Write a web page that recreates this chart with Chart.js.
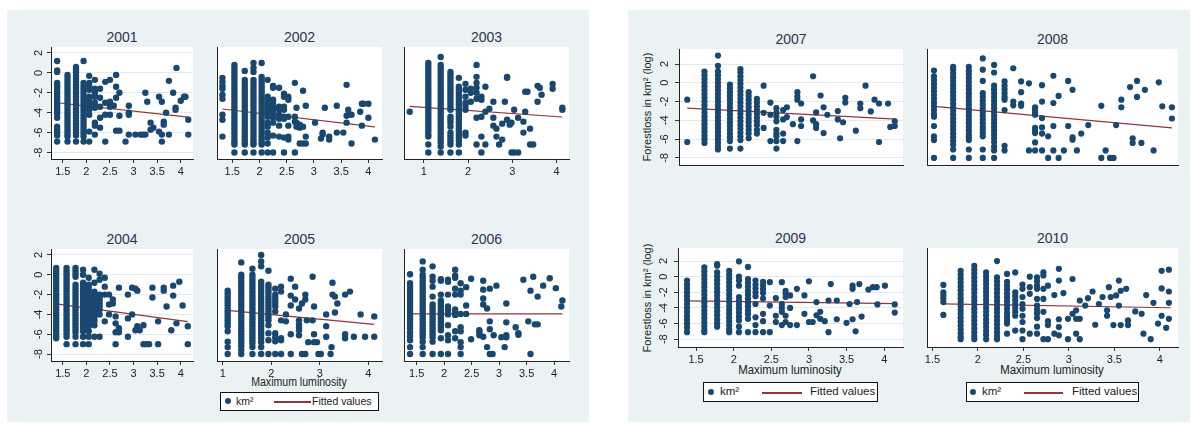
<!DOCTYPE html>
<html>
<head>
<meta charset="utf-8">
<script src="https://cdn.jsdelivr.net/npm/chart.js@4"></script>
<style>
body { margin: 0; background: #fff; }
#wrap { position: relative; width: 1194px; height: 425px; overflow: hidden; background: #fff;
        font-family: "Liberation Sans Narrow", "Liberation Sans", Arial, sans-serif; color: #222; }
.panel { position: absolute; background: #eaf2f3; }
.ttl { position: absolute; width: 120px; text-align: center; font: 14px "Liberation Sans", Arial, sans-serif; color: #2b3550; line-height: 16px; }
.xt { position: absolute; width: 160px; text-align: center; line-height: 14px; white-space: nowrap; transform: scaleX(0.88); }
.yt { position: absolute; width: 160px; text-align: center; line-height: 14px; white-space: nowrap; transform: rotate(-90deg); }
.leg { position: absolute; background: #fff; border: 1.5px solid #111; box-sizing: border-box; white-space: nowrap; }
.leg span { position: absolute; }
.leg .dot { width: 6px; height: 6px; border-radius: 50%; background: #1a476f; }
.leg .ln { height: 1.5px; background: #90353b; }
</style>
</head>
<body>
<div id="wrap">
  <div class="panel" style="left:7px;top:10px;width:582px;height:412px"></div>
  <div class="panel" style="left:628px;top:10px;width:562px;height:412px"></div>

  <div class="xt" style="left:219px;top:375px;font-size:12px">Maximum luminosity</div>
  <div class="xt" style="left:710px;top:363px;font-size:13px">Maximum luminosity</div>
  <div class="xt" style="left:972px;top:363px;font-size:13px">Maximum luminosity</div>
  <div class="yt" style="left:567px;top:100px;font-size:11px">Forestloss in km² (log)</div>
  <div class="yt" style="left:567px;top:291px;font-size:11px">Forestloss in km² (log)</div>

  <div class="leg" style="left:220px;top:392px;width:159px;height:19px;font-size:10.5px">
    <span class="dot" style="left:4px;top:5px"></span><span style="left:15px;top:2px">km²</span>
    <span class="ln" style="left:53px;top:8px;width:37px"></span><span style="left:91px;top:2px">Fitted values</span>
  </div>
  <div class="leg" style="left:703px;top:382px;width:175px;height:20px;font-size:11.5px">
    <span class="dot" style="left:4px;top:6px"></span><span style="left:16px;top:2px">km²</span>
    <span class="ln" style="left:58px;top:9px;width:40px"></span><span style="left:106px;top:2px">Fitted values</span>
  </div>
  <div class="leg" style="left:966px;top:382px;width:173px;height:20px;font-size:11.5px">
    <span class="dot" style="left:3px;top:6px"></span><span style="left:15px;top:2px">km²</span>
    <span class="ln" style="left:57px;top:9px;width:39px"></span><span style="left:105px;top:2px">Fitted values</span>
  </div>
</div>
<script>
// tick labels
const yTickLabels = [-8, -6, -4, -2, 0, 2];
const xTicksHalf = [1.5, 2, 2.5, 3, 3.5, 4];
const xTicksWhole = [1, 2, 3, 4];

// points per year: [luminosity, [forest loss values...]]
const pts2001 = [
  [1.38, [1.2, 0.25, 0.1, -1.0, -1.25, -1.5, -1.8, -2.1, -2.4, -2.7, -3.0, -3.2, -3.5, -3.8, -4.1, -4.5, -5.4, -5.7, -6.0, -6.3, -6.9]],
  [1.6, [-0.2, -0.5, -0.8, -1.1, -1.4, -1.7, -2.0, -2.3, -2.6, -2.9, -3.2, -3.5, -3.8, -4.1, -4.4, -4.7, -5.0, -5.3, -5.6, -5.9, -6.2, -6.4, -6.9]],
  [1.78, [0.6, 0.35, 0.05, -0.3, -0.6, -0.9, -1.2, -1.5, -1.8, -2.1, -2.4, -2.7, -3.0, -3.3, -3.6, -3.9, -4.2, -4.5, -4.8, -5.1, -5.4, -5.7, -6.0, -6.3, -6.9]],
  [1.94, [1.2, -1.0, -1.3, -1.6, -1.9, -2.2, -2.5, -2.8, -3.1, -3.4, -3.7, -4.0, -4.3, -4.6, -4.9, -5.2, -5.5, -5.8, -6.1, -6.4, -6.9]],
  [2.06, [-0.3, -1.0, -1.3, -1.7, -2.4, -2.7, -3.0, -3.3, -3.7, -4.2, -5.9, -6.9]],
  [2.18, [-0.7, -1.6, -1.9, -2.2, -2.4, -3.0, -3.5, -5.0, -5.3, -6.2]],
  [2.29, [-1.6, -2.5, -3.4, -4.5, -5.5]],
  [2.4, [-0.9, -3.0, -4.2, -6.9]],
  [2.5, [-0.7, -2.9, -3.4, -4.2]],
  [2.58, [-3.3]],
  [2.63, [-0.2, -1.4, -2.5, -5.8]],
  [2.7, [-2.0, -4.3, -5.8]],
  [2.83, [-6.9]],
  [2.9, [-3.3, -4.0, -4.2, -6.2]],
  [3.04, [-6.2]], [3.15, [-6.2]], [3.2, [-6.2]], [3.25, [-2.0, -6.2]], [3.29, [-2.9]],
  [3.36, [-5.0, -5.7]], [3.42, [-5.5]], [3.54, [-2.4, -5.9]], [3.6, [-2.9, -6.2, -6.9]],
  [3.64, [-4.9, -5.2]], [3.69, [-4.0]], [3.75, [-0.8, -6.2]], [3.84, [-2.0]],
  [3.89, [-3.5, -3.7]], [3.91, [0.5]], [4.0, [-2.8]], [4.07, [-2.4]], [4.1, [-2.4]], [4.16, [-4.7, -6.2]]
];
const fit2001 = [[1.38, -3.0], [4.16, -4.45]];

const pts2002 = [
  [1.32, [-0.5, -0.9, -1.3, -1.6, -2.2, -2.6, -4.2, -4.7, -6.4]],
  [1.54, [0.8, 0.5, 0.2, -0.1, -0.4, -0.7, -1.0, -1.3, -1.6, -1.9, -2.2, -2.5, -2.8, -3.1, -3.4, -3.7, -4.0, -4.3, -4.6, -4.9, -5.2, -5.5, -5.8, -6.1, -6.4, -6.7, -7.0, -7.2, -8.0]],
  [1.73, [0.2, -0.7, -1.0, -1.3, -1.6, -1.9, -2.2, -2.5, -2.8, -3.1, -3.4, -3.7, -4.0, -4.3, -4.6, -4.9, -5.2, -5.5, -5.8, -6.1, -6.4, -6.7, -7.0, -7.2, -8.0]],
  [1.89, [1.0, 0.5, 0.1, -0.7, -1.0, -1.3, -1.6, -1.9, -2.2, -2.5, -2.8, -3.1, -3.4, -3.7, -4.0, -4.3, -4.6, -4.9, -5.2, -5.5, -5.8, -6.1, -6.4, -6.7, -7.0, -7.2, -8.0]],
  [2.04, [1.0, -0.4, -0.7, -1.0, -1.3, -1.6, -1.9, -2.2, -2.5, -2.8, -3.1, -3.4, -3.7, -4.0, -4.3, -4.6, -4.9, -5.2, -5.5, -5.8, -6.1, -6.4, -6.7, -7.0, -7.2, -8.0]],
  [2.15, [-0.7, -2.4, -2.7, -3.0, -3.3, -3.6, -4.0, -4.4, -5.0, -5.4, -6.0, -6.5, -7.1, -8.0]],
  [2.25, [-1.3, -1.5, -2.7, -3.0, -3.3, -3.7, -4.0, -4.5, -5.0, -6.3, -8.0]],
  [2.36, [-1.5, -3.4, -3.7, -4.2, -4.6, -5.3, -6.4]],
  [2.45, [-2.1, -2.4, -3.4, -3.7, -4.4, -4.6, -6.5, -8.0]],
  [2.53, [-2.4, -2.7, -4.4, -5.3, -6.4, -6.7]],
  [2.65, [-1.0, -4.4, -4.9, -8.0]], [2.68, [-3.5, -5.0, -5.4]], [2.74, [-5.2, -5.5, -7.1]],
  [2.8, [-1.8, -5.4, -7.1]], [2.85, [-3.3, -6.4, -7.1]], [3.02, [-5.0]], [3.13, [-6.6]],
  [3.16, [-6.0, -6.2]], [3.2, [-3.5]], [3.28, [-6.4, -6.7]], [3.42, [-3.3, -6.0]], [3.54, [-6.0]],
  [3.6, [-1.2, -4.3, -5.0]], [3.63, [-3.7, -4.2]], [3.69, [-4.2, -7.1]], [3.85, [-3.9]],
  [3.88, [-3.1, -5.3]], [3.91, [-3.1]], [4.0, [-3.1, -4.5]], [4.12, [-6.7]]
];
const fit2002 = [[1.32, -3.63], [4.12, -5.43]];

const pts2003 = [
  [0.68, [-3.9]],
  [1.1, [1.0, 0.7, 0.4, 0.1, -0.2, -0.5, -0.8, -1.1, -1.4, -1.7, -2.0, -2.3, -2.6, -2.9, -3.2, -3.5, -3.8, -4.1, -4.4, -4.7, -5.0, -5.3, -5.6, -5.9, -6.2, -6.4, -7.2, -8.0]],
  [1.38, [1.6, 0.8, 0.5, 0.2, -0.1, -0.4, -0.7, -1.0, -1.3, -1.6, -1.9, -2.2, -2.5, -2.8, -3.1, -3.4, -3.7, -4.0, -4.3, -4.6, -4.9, -5.2, -5.5, -5.8, -6.1, -6.4, -6.7, -7.0, -7.4, -8.0]],
  [1.6, [0.1, -0.2, -0.5, -0.8, -1.1, -1.4, -1.7, -2.0, -2.3, -2.6, -2.9, -3.2, -3.5, -3.7, -4.4, -4.7, -5.0, -5.4, -6.0, -6.3, -6.6, -6.9, -7.2, -8.0]],
  [1.79, [-0.5, -1.4, -1.7, -2.0, -2.3, -2.6, -2.9, -3.2, -3.5, -3.8, -4.1, -4.4, -4.7, -5.0, -5.3, -5.6, -5.9, -6.2, -6.5, -6.8, -7.2, -8.0]],
  [1.94, [-1.1, -1.7, -2.4, -3.0, -3.3, -3.7, -6.0, -6.3]],
  [2.06, [-1.6, -2.0, -2.9]],
  [2.19, [0.8, -0.4, -1.0, -1.5, -2.0, -2.6, -4.5, -7.2]],
  [2.3, [-2.4, -2.7, -4.4, -6.4, -8.0]],
  [2.39, [-1.4, -3.9, -7.2]], [2.48, [-3.6]], [2.57, [-2.9, -4.5, -5.3]], [2.64, [-5.6, -6.4]],
  [2.7, [-7.2]], [2.77, [-5.1, -6.7]], [2.83, [-2.9]], [2.88, [-0.4, -0.5, -4.7]], [2.94, [-5.2]],
  [2.98, [-5.0, -8.0]], [3.04, [-3.7, -8.0]], [3.13, [-4.5, -8.0]], [3.25, [-4.9, -6.0]],
  [3.29, [-1.9, -3.9]], [3.34, [-1.9]], [3.4, [-5.6, -7.2]], [3.47, [-7.2]], [3.57, [-1.3, -2.9]],
  [3.62, [-1.5]], [3.66, [-2.2]], [3.91, [-1.1, -1.6]], [4.13, [-3.5, -3.7]]
];
const fit2003 = [[0.68, -3.37], [4.13, -4.43]];

const pts2004 = [
  [1.36, [0.7, 0.4, 0.1, -0.2, -0.5, -0.8, -1.1, -1.4, -1.7, -2.0, -2.3, -2.6, -2.9, -3.2, -3.5, -3.8, -4.1, -4.4, -4.7, -5.0, -5.3, -5.6, -5.9, -6.2, -6.4]],
  [1.58, [0.7, 0.4, 0.1, -0.2, -0.5, -0.8, -1.1, -1.4, -1.7, -2.0, -2.3, -2.6, -2.9, -3.2, -3.5, -3.8, -4.1, -4.4, -4.7, -5.0, -5.3, -5.6, -5.9, -6.25, -7.0]],
  [1.77, [0.7, 0.4, 0.1, -0.2, -1.0, -1.3, -1.6, -1.9, -2.2, -2.5, -2.8, -3.1, -3.4, -3.7, -4.0, -4.3, -4.6, -4.9, -5.2, -5.5, -5.8, -6.25, -7.0]],
  [1.93, [0.5, 0.0, -0.8, -1.1, -1.4, -1.7, -2.0, -2.3, -2.6, -2.9, -3.2, -3.5, -3.8, -4.1, -4.4, -4.7, -5.0, -5.3, -5.7, -6.25, -7.0]],
  [2.05, [-0.3, -1.0, -1.3, -1.6, -1.9, -2.2, -2.5, -2.8, -3.1, -3.4, -3.7, -4.0, -4.3, -4.6, -4.9, -5.2, -5.7, -6.25, -7.0]],
  [2.17, [0.5, -0.8, -1.7, -2.0, -2.3, -2.6, -2.9, -3.2, -3.5, -3.8, -4.1, -4.4, -4.7, -5.1, -6.25]],
  [2.28, [0.1, -0.5, -2.0, -2.3, -2.6, -2.9, -3.2, -3.5, -4.0, -6.25]],
  [2.39, [-0.3, -1.2, -2.0, -4.7]], [2.48, [-2.0, -3.0, -4.0]], [2.56, [-2.5, -2.9]],
  [2.62, [-4.2, -4.9, -5.8, -7.0]], [2.69, [-1.3, -5.4, -5.8]], [2.88, [-2.0, -4.4, -6.25]],
  [2.97, [-1.3, -4.0]], [3.04, [-1.4, -5.6]], [3.08, [-1.6, -5.2]], [3.13, [-5.6]],
  [3.21, [-5.1, -7.0]], [3.27, [-7.0]], [3.33, [-7.0]], [3.4, [-1.3, -2.3]], [3.52, [-4.7, -7.0]],
  [3.64, [-1.3, -1.6]], [3.7, [-3.2]], [3.8, [-5.6]], [3.84, [-1.1, -2.1]], [3.91, [-4.9]],
  [3.97, [-0.7]], [4.04, [-3.1]], [4.15, [-5.2, -7.0]]
];
const fit2004 = [[1.36, -2.94], [4.15, -4.73]];

const pts2005 = [
  [1.1, [-1.6, -1.9, -2.2, -2.5, -2.8, -3.1, -3.4, -3.7, -4.0, -4.3, -4.6, -4.9, -5.2, -5.7, -6.75, -7.3, -8.0]],
  [1.38, [1.25, 0.0, -0.3, -0.6, -0.9, -1.2, -1.5, -1.8, -2.1, -2.4, -2.7, -3.0, -3.3, -3.6, -3.9, -4.2, -4.5, -4.8, -5.1, -5.4, -5.7, -6.0, -6.3, -6.6, -6.9, -7.2, -7.6, -8.0]],
  [1.61, [0.6, 0.0, -0.3, -0.6, -0.9, -1.2, -1.5, -1.8, -2.1, -2.4, -2.7, -3.0, -3.3, -3.6, -3.9, -4.2, -4.5, -4.8, -5.1, -5.4, -5.7, -6.0, -6.3, -6.6, -6.9, -7.3, -8.0]],
  [1.79, [2.0, 1.35, 0.85, -0.7, -1.0, -1.3, -1.6, -1.9, -2.2, -2.5, -2.8, -3.1, -3.4, -3.7, -4.0, -4.3, -4.6, -4.9, -5.2, -5.5, -5.8, -6.1, -6.4, -6.8, -7.3, -8.0]],
  [1.94, [0.4, -1.0, -1.3, -1.6, -1.9, -2.2, -2.5, -2.8, -3.1, -3.4, -3.7, -4.0, -4.3, -4.6, -5.1, -5.9, -6.6, -8.0]],
  [2.08, [-1.4, -2.0, -2.3, -2.6, -2.9, -3.2, -3.7, -5.9, -6.3, -6.7, -8.0]],
  [2.2, [-1.2, -1.7, -4.6, -6.4, -6.6, -8.0]], [2.3, [-4.0, -4.7]], [2.4, [-0.4, -2.1, -3.1, -6.0, -8.0]],
  [2.49, [-1.2, -2.5]], [2.57, [-3.4, -4.6, -5.0, -5.3, -5.6, -6.1]], [2.63, [-2.9, -8.0]],
  [2.7, [-2.0, -2.5, -8.0]], [2.73, [-4.6]], [2.76, [-6.8]], [2.85, [-0.2, -4.6]],
  [2.88, [-3.2, -6.0, -6.8]], [2.94, [-6.8]], [2.97, [-8.0]], [3.02, [-8.0]], [3.13, [-4.0, -5.2, -6.25]],
  [3.22, [-8.0]], [3.24, [-7.3]], [3.26, [-0.8, -2.0]], [3.31, [-2.2, -3.8]], [3.36, [-2.9]],
  [3.52, [-2.0, -6.0, -6.4]], [3.62, [-1.7]], [3.7, [-6.25]], [3.84, [-4.0]], [3.93, [-6.25]], [4.12, [-4.2, -6.25]]
];
const fit2005 = [[1.1, -3.6], [4.12, -5.0]];

const pts2006 = [
  [1.38, [0.05, -0.85, -1.15, -1.45, -1.75, -2.05, -2.35, -2.65, -2.95, -3.25, -3.55, -3.85, -4.15, -4.45, -4.75, -5.1, -5.4, -5.8, -6.2, -6.6, -7.3, -8.0]],
  [1.61, [1.35, 0.5, 0.0, -0.3, -0.6, -0.9, -1.2, -1.5, -1.8, -2.1, -2.4, -2.7, -3.0, -3.3, -3.6, -3.9, -4.2, -4.5, -4.8, -5.1, -5.4, -5.7, -6.0, -6.3, -6.75, -7.3, -8.0]],
  [1.79, [0.85, -0.2, -0.6, -1.2, -2.2, -3.0, -3.3, -3.6, -3.9, -4.2, -4.5, -4.8, -5.1, -5.4, -5.7, -6.0, -6.3, -6.75, -8.0]],
  [1.94, [-0.45, -0.6, -2.0, -2.6, -2.9, -3.2, -3.5, -3.8, -4.1, -4.4, -4.7, -5.0, -5.3, -5.6, -6.4, -8.0]],
  [2.07, [-0.5, -0.7, -2.0, -3.2, -3.5, -3.8, -4.0, -5.1, -6.1, -6.6, -8.0]],
  [2.2, [0.5, -0.1, -0.3, -1.4, -2.0, -3.5, -3.8, -4.05, -5.7, -6.4]],
  [2.3, [-0.85, -1.6, -2.0, -3.95, -5.3, -5.7, -6.8, -7.3, -8.0]],
  [2.4, [-1.25, -3.1, -3.95]], [2.49, [-0.4, -6.5]], [2.64, [-5.6, -5.8, -6.1]],
  [2.71, [-0.6, -1.5, -2.4, -3.0, -6.25]], [2.78, [-3.4, -7.3]], [2.83, [-1.4, -4.7, -5.5, -8.0]],
  [2.88, [-8.0]], [2.9, [-6.1]], [2.95, [-1.1]], [3.04, [-6.3]], [3.1, [-7.3]],
  [3.13, [-2.9, -4.8, -6.1, -6.3]], [3.3, [-5.3]], [3.35, [-5.9, -6.05]], [3.44, [-0.5]],
  [3.53, [-4.7]], [3.57, [-1.6, -8.0]], [3.62, [-0.2]], [3.65, [-5.0]], [3.7, [-2.2, -5.0]],
  [3.8, [-1.1]], [3.92, [-0.35]], [4.03, [-1.35]], [4.13, [-3.2]], [4.15, [-2.6]]
];
const fit2006 = [[1.38, -3.95], [4.15, -3.95]];

const pts2007 = [
  [1.37, [-1.8, -6.3]],
  [1.6, [1.2, 0.8, 0.4, 0.0, -0.4, -0.8, -1.2, -1.6, -2.0, -2.4, -2.8, -3.2, -3.6, -4.0, -4.4, -4.8, -5.2, -5.6, -6.0, -6.4]],
  [1.78, [2.9, 1.8, 1.2, 0.8, 0.4, 0.0, -0.4, -0.8, -1.2, -1.6, -2.0, -2.4, -2.8, -3.2, -3.6, -4.0, -4.4, -4.8, -5.2, -5.6, -6.0, -6.4, -6.8, -7.1]],
  [1.94, [-0.2, -0.6, -1.0, -1.4, -1.8, -2.2, -2.6, -3.0, -3.4, -3.8, -4.2, -4.6, -5.0, -5.4, -5.8, -6.2, -7.0]],
  [2.08, [1.45, 1.1, 0.7, 0.3, -0.1, -0.5, -0.9, -1.3, -1.7, -2.1, -2.5, -2.9, -3.3, -3.7, -4.1, -4.5, -4.9, -5.3, -5.7, -6.1, -7.0]],
  [2.19, [-1.0, -1.4, -1.8, -2.2, -2.6, -3.0, -3.4, -3.8, -4.2, -4.6, -5.0, -5.4, -5.9]],
  [2.3, [-1.7, -2.1, -2.5, -2.9, -3.3, -3.7, -4.1, -4.5, -5.0, -5.4]],
  [2.39, [-0.3, -3.2, -4.8]], [2.48, [-2.1, -3.4, -6.2]],
  [2.56, [-2.7, -3.2, -3.6, -4.1, -5.0, -5.4, -5.7, -6.2, -7.0]], [2.65, [-2.9, -3.9, -5.4, -6.2]],
  [2.7, [-2.6, -3.65]], [2.78, [-4.4]], [2.84, [-1.0, -1.45, -1.8, -6.2]], [2.89, [-2.2, -3.9, -4.6]],
  [3.05, [0.7, -4.0]], [3.09, [-3.15, -4.4, -4.8]], [3.15, [-1.35]], [3.19, [-2.6, -5.35]], [3.24, [-3.4]],
  [3.38, [-3.0, -3.9]], [3.41, [-5.9]], [3.45, [-4.2]], [3.48, [-1.6, -2.1]], [3.62, [-5.1]],
  [3.68, [-2.2, -2.7]], [3.75, [-0.3]], [3.82, [-3.05]], [3.87, [-1.8]], [3.93, [-2.2, -6.3]],
  [4.05, [-2.2]], [4.08, [-4.7]], [4.14, [-4.1, -4.6]]
];
const fit2007 = [[1.37, -2.7], [4.16, -3.87]];

const pts2008 = [
  [1.4, [1.3, 0.7, 0.3, -0.1, -0.5, -0.9, -1.3, -1.7, -2.1, -2.5, -2.9, -3.3, -3.6, -4.6, -5.7, -6.1, -8.0]],
  [1.62, [1.7, 1.4, 1.0, 0.6, 0.2, -0.2, -0.6, -1.0, -1.4, -1.8, -2.2, -2.6, -3.0, -3.4, -3.8, -4.2, -4.6, -5.0, -5.4, -5.8, -6.2, -6.6, -7.1, -8.0]],
  [1.8, [1.7, 1.3, 0.9, 0.5, 0.1, -0.3, -0.7, -1.1, -1.5, -1.9, -2.3, -2.7, -3.1, -3.5, -3.9, -4.3, -4.7, -5.1, -5.5, -5.8, -6.1, -7.1, -8.0]],
  [1.96, [2.6, 1.4, 0.2, -1.1, -1.5, -1.9, -2.3, -2.7, -3.1, -3.5, -3.9, -4.3, -4.7, -5.0, -5.35, -5.7, -7.1, -8.0]],
  [2.09, [1.9, 1.1, -0.3, -0.7, -1.1, -1.5, -1.9, -2.3, -2.7, -3.1, -3.5, -3.9, -4.3, -4.7, -5.1, -5.5, -5.9, -6.3, -6.8, -7.2, -8.0]],
  [2.21, [0.15, -0.3, -0.7, -1.1, -1.5, -1.8, -2.9, -6.7, -7.2]],
  [2.31, [1.55, -2.0, -2.4]], [2.4, [0.15, -1.0, -2.2, -2.45]], [2.49, [-0.05, -7.2]],
  [2.56, [-2.6, -2.9, -3.2, -3.4, -4.8, -5.1, -5.35, -6.35, -7.2]], [2.64, [-0.25, -2.0, -3.75, -4.75, -5.4, -7.2]],
  [2.71, [-5.7, -8.0]], [2.77, [0.75, -2.15, -4.6, -7.2]], [2.83, [-1.4, -8.0]], [2.89, [-7.2]],
  [2.94, [0.2, -4.6]], [2.99, [-0.75, -5.8, -6.05]], [3.04, [-7.2]], [3.09, [-5.4]], [3.17, [-4.5]],
  [3.32, [-2.45, -8.0]], [3.37, [-7.2]], [3.42, [-8.0]], [3.46, [-8.0]], [3.49, [-4.5]],
  [3.55, [-1.8, -2.6]], [3.65, [-0.45]], [3.68, [-5.9, -6.4]], [3.73, [0.2, -1.5]], [3.78, [-6.4]],
  [3.82, [-0.75]], [3.92, [-7.2]], [3.98, [0.05]], [4.02, [-2.5]], [4.13, [-2.6, -3.8]]
];
const fit2008 = [[1.4, -2.5], [4.13, -4.8]];

const pts2009 = [
  [1.38, [-0.5, -1.0, -1.5, -2.0, -2.5, -3.0, -3.5, -4.0, -4.5, -5.0, -5.5, -6.0, -6.5, -7.1]],
  [1.61, [1.2, 0.7, 0.2, -0.3, -0.8, -1.3, -1.8, -2.3, -2.8, -3.3, -3.8, -4.3, -4.8, -5.3, -5.8, -6.3, -6.8, -7.1]],
  [1.78, [1.6, 1.4, 0.55, 0.05, -0.45, -0.95, -1.45, -1.95, -2.45, -2.95, -3.45, -3.95, -4.45, -4.95, -5.45, -5.95, -6.4]],
  [1.94, [0.75, 0.25, -0.25, -0.75, -1.25, -1.75, -2.25, -2.75, -3.25, -3.75, -4.25, -4.75, -5.25, -5.75, -6.25, -6.75, -7.1]],
  [2.07, [1.95, 0.0, -0.5, -1.15, -2.6, -3.1, -3.6, -4.1, -4.6, -5.1, -5.6, -6.4, -7.1]],
  [2.19, [1.25, -0.3, -0.8, -1.3, -1.8, -2.3, -2.8, -3.3, -3.8, -4.3, -4.8, -5.4, -7.1]],
  [2.29, [-0.5, -1.0, -1.5, -2.0, -2.5, -3.5, -5.2, -6.2, -7.1]],
  [2.39, [-0.65, -1.1, -1.6, -2.1, -2.8, -4.75, -5.7, -7.1]],
  [2.48, [-0.7, -3.7, -7.1]], [2.56, [-2.75, -5.0, -5.8]], [2.64, [-0.7, -3.5, -4.0, -4.5, -6.2]],
  [2.69, [-1.8, -2.2, -2.6, -5.0, -5.8]], [2.75, [-2.4, -4.0, -6.2]], [2.84, [-1.55, -6.2]],
  [2.94, [-2.4, -4.75]], [3.0, [-0.6, -5.8]], [3.05, [-5.8]], [3.1, [-3.25, -4.95]], [3.15, [-4.5, -5.4]],
  [3.21, [-5.7]], [3.26, [-3.05, -7.1]], [3.29, [-0.95]], [3.37, [-3.05, -5.45]], [3.5, [-5.9]],
  [3.54, [-3.5]], [3.58, [-1.15, -1.55, -5.45]], [3.62, [-7.0]], [3.64, [-3.25]], [3.67, [-0.95]],
  [3.7, [-5.1]], [3.79, [-1.65]], [3.85, [-1.35]], [3.9, [-1.35]], [3.91, [-3.55]], [4.01, [-1.15]],
  [4.14, [-3.55, -4.6]]
];
const fit2009 = [[1.38, -3.1], [4.16, -3.45]];

const pts2010 = [
  [1.62, [-1.05, -2.0, -2.4, -2.8, -3.25, -4.9]],
  [1.81, [0.75, 0.25, -0.25, -0.75, -1.25, -1.75, -2.25, -2.75, -3.25, -3.75, -4.25, -4.75, -5.25, -5.75, -6.25, -6.75, -7.25, -7.7, -8.0]],
  [1.96, [1.4, 0.9, 0.4, -0.1, -0.6, -1.1, -1.6, -2.1, -2.6, -3.1, -3.6, -4.1, -4.6, -5.1, -5.6, -6.1, -6.6, -7.1, -7.6, -8.0]],
  [2.09, [0.55, 0.05, -0.45, -0.95, -1.45, -1.95, -2.45, -2.95, -3.45, -3.95, -4.45, -4.95, -5.45, -5.95, -6.45, -6.95, -7.45, -8.0]],
  [2.21, [2.0, -0.1, -0.6, -1.1, -1.6, -2.1, -2.6, -3.1, -3.6, -4.1, -4.6, -5.1, -5.6, -6.1, -6.6, -7.1, -7.6, -8.0]],
  [2.32, [0.35, -0.65, -1.15, -1.65, -2.15, -2.65, -3.15, -3.65, -4.15, -4.65, -5.15, -5.6, -6.0, -7.3]],
  [2.41, [0.55, -2.0, -2.5, -3.0, -3.5, -4.0, -4.5, -5.0, -6.9]],
  [2.49, [-1.0, -1.55, -2.6, -3.5, -4.1, -5.0, -5.8, -6.9, -8.0]],
  [2.57, [0.0, -1.35, -2.2, -7.3]],
  [2.65, [-0.1, -0.6, -1.15, -1.55, -2.85, -3.7, -4.2, -4.7, -5.3, -6.4, -7.3]],
  [2.72, [0.55, 0.15, -1.55, -2.85, -4.5, -8.0]], [2.77, [-1.15, -5.7, -6.2, -8.0]], [2.84, [-2.35, -7.3]],
  [2.89, [1.0, -0.5, -5.45, -6.45, -7.5]], [2.94, [-2.1]], [2.99, [-5.4, -8.0]], [3.04, [-0.3, -4.75]],
  [3.08, [-4.3, -5.4, -7.3]], [3.12, [-3.05, -5.4, -8.0]], [3.18, [-3.7]], [3.21, [-2.75]], [3.26, [-1.9]],
  [3.29, [-6.15]], [3.33, [-3.5]], [3.37, [-2.6]], [3.42, [-4.3, -5.0]], [3.44, [-1.35]], [3.46, [-2.6]],
  [3.49, [-6.2]], [3.52, [-2.4]], [3.55, [-0.5, -3.7]], [3.57, [-1.8, -6.2]], [3.63, [-1.55]],
  [3.65, [-5.6, -6.2]], [3.73, [-4.45]], [3.8, [-4.75]], [3.82, [-7.3]], [3.85, [-2.35]], [3.9, [-8.0]],
  [3.93, [-3.35]], [3.98, [-6.0]], [4.02, [0.75, -1.5, -5.0]], [4.07, [-6.55]], [4.1, [0.9, -1.9, -3.35, -5.4]]
];
const fit2010 = [[1.62, -3.47], [4.12, -3.98]];

// --- layout of the ten small plots (plot area in page pixels) ---
const plots = [
  { year: '2001', pts: pts2001, fit: fit2001, rect: [51, 47, 193, 159], xr: [1.25, 4.26], yr: [-8.65, 2.6], xt: xTicksHalf, showX: true, showY: true, r: 3.2, labOff: 12 },
  { year: '2002', pts: pts2002, fit: fit2002, rect: [217, 47, 382, 159], xr: [1.22, 4.25], yr: [-8.65, 2.6], xt: xTicksHalf, showX: true, showY: false, r: 3.2 },
  { year: '2003', pts: pts2003, fit: fit2003, rect: [404, 47, 569, 159], xr: [0.55, 4.28], yr: [-8.65, 2.6], xt: xTicksWhole, showX: true, showY: false, r: 3.2 },
  { year: '2004', pts: pts2004, fit: fit2004, rect: [51, 249, 193, 361], xr: [1.25, 4.26], yr: [-8.7, 2.6], xt: xTicksHalf, showX: true, showY: true, r: 3.2, labOff: 12 },
  { year: '2005', pts: pts2005, fit: fit2005, rect: [217, 249, 382, 361], xr: [0.88, 4.28], yr: [-8.7, 2.6], xt: xTicksWhole, showX: true, showY: false, r: 3.2 },
  { year: '2006', pts: pts2006, fit: fit2006, rect: [404, 249, 569, 361], xr: [1.27, 4.27], yr: [-8.7, 2.6], xt: xTicksHalf, showX: true, showY: false, r: 3.2 },
  { year: '2007', pts: pts2007, fit: fit2007, rect: [679, 49, 903, 165], xr: [1.26, 4.25], yr: [-8.75, 3.6], xt: xTicksHalf, showX: false, showY: true, r: 3.1, labOff: 14 },
  { year: '2008', pts: pts2008, fit: fit2008, rect: [927, 49, 1178, 165], xr: [1.32, 4.2], yr: [-8.75, 3.6], xt: xTicksHalf, showX: false, showY: false, r: 3.1 },
  { year: '2009', pts: pts2009, fit: fit2009, rect: [678, 248, 903, 347], xr: [1.26, 4.25], yr: [-9.0, 3.67], xt: xTicksHalf, showX: true, showY: true, r: 3.1, labOff: 14 },
  { year: '2010', pts: pts2010, fit: fit2010, rect: [927, 248, 1178, 347], xr: [1.44, 4.2], yr: [-9.0, 3.67], xt: xTicksHalf, showX: true, showY: false, r: 3.1 }
];

const FONT = '"Liberation Sans Narrow", "Liberation Sans", Arial, sans-serif';
Chart.defaults.font.family = FONT;
Chart.defaults.font.size = 11;
Chart.defaults.color = '#222';

const NAVY = '#1a476f';
const MAROON = '#90353b';

function flatten(cols) {
  const out = [];
  cols.forEach(([x, ys]) => ys.forEach(y => out.push({ x: x, y: y })));
  return out;
}

// white plot region
const plotBg = {
  id: 'plotBg',
  beforeDraw(chart) {
    const { ctx, chartArea: a } = chart;
    ctx.save();
    ctx.fillStyle = '#fff';
    ctx.fillRect(a.left, a.top, a.right - a.left, a.bottom - a.top);
    ctx.restore();
  }
};

// y tick labels turned on their side, Stata style
const rotYLabels = {
  id: 'rotYLabels',
  afterDraw(chart, args, opts) {
    if (!opts.show) return;
    const scale = chart.scales.y;
    const ctx = chart.ctx;
    ctx.save();
    ctx.fillStyle = '#222';
    ctx.font = '11px ' + FONT;
    ctx.textAlign = 'center';
    ctx.textBaseline = 'middle';
    yTickLabels.forEach(v => {
      ctx.save();
      ctx.translate(chart.chartArea.left - opts.offset, scale.getPixelForValue(v));
      ctx.rotate(-Math.PI / 2);
      ctx.fillText(String(v), 0, 0);
      ctx.restore();
    });
    ctx.restore();
  }
};

const wrap = document.getElementById('wrap');

function makeChart(p) {
  const [L, T, R, B] = p.rect;
  const padL = 40, padT = 6, padR = 8, axH = 26;
  const w = R - L + padL + padR, h = B - T + padT + axH;

  const title = document.createElement('div');
  title.className = 'ttl';
  title.textContent = p.year;
  title.style.left = ((L + R) / 2 - 60) + 'px';
  title.style.top = (T - 18) + 'px';
  wrap.appendChild(title);

  const cv = document.createElement('canvas');
  cv.width = w;
  cv.height = h;
  cv.style.cssText = `position:absolute;left:${L - padL}px;top:${T - padT}px;width:${w}px;height:${h}px`;
  wrap.appendChild(cv);

  return new Chart(cv.getContext('2d'), {
    type: 'scatter',
    data: {
      datasets: [{
        label: 'km²',
        data: flatten(p.pts),
        backgroundColor: NAVY,
        borderWidth: 0,
        pointRadius: p.r,
        order: 0
      }, {
        label: 'Fitted values',
        data: p.fit.map(([x, y]) => ({ x: x, y: y })),
        showLine: true,
        borderColor: MAROON,
        borderWidth: 1.2,
        pointRadius: 0,
        order: 1
      }]
    },
    options: {
      responsive: false,
      animation: false,
      events: [],
      layout: { padding: { left: 0, top: padT, right: padR, bottom: 0 } },
      plugins: {
        legend: { display: false },
        tooltip: { enabled: false },
        rotYLabels: { show: p.showY, offset: p.labOff || 12 }
      },
      scales: {
        x: {
          type: 'linear',
          min: p.xr[0],
          max: p.xr[1],
          afterBuildTicks: s => { s.ticks = p.xt.map(v => ({ value: v })); },
          afterFit: s => { s.height = axH; },
          ticks: { display: p.showX, callback: v => String(v), padding: 2, maxRotation: 0, autoSkip: false, color: '#222' },
          grid: { display: p.showX, drawOnChartArea: false, tickLength: 4, tickColor: '#333' },
          border: { display: true, color: '#222', width: 1 }
        },
        y: {
          type: 'linear',
          min: p.yr[0],
          max: p.yr[1],
          afterBuildTicks: s => { s.ticks = yTickLabels.map(v => ({ value: v })); },
          afterFit: s => { s.width = padL; },
          ticks: { display: false },
          grid: { display: true, drawOnChartArea: p.showY, drawTicks: p.showY, tickLength: 4, color: '#e1eaee', tickColor: '#333' },
          border: { display: true, color: '#222', width: 1 }
        }
      }
    },
    plugins: [plotBg, rotYLabels]
  });
}

plots.forEach(makeChart);
</script>
</body>
</html>
